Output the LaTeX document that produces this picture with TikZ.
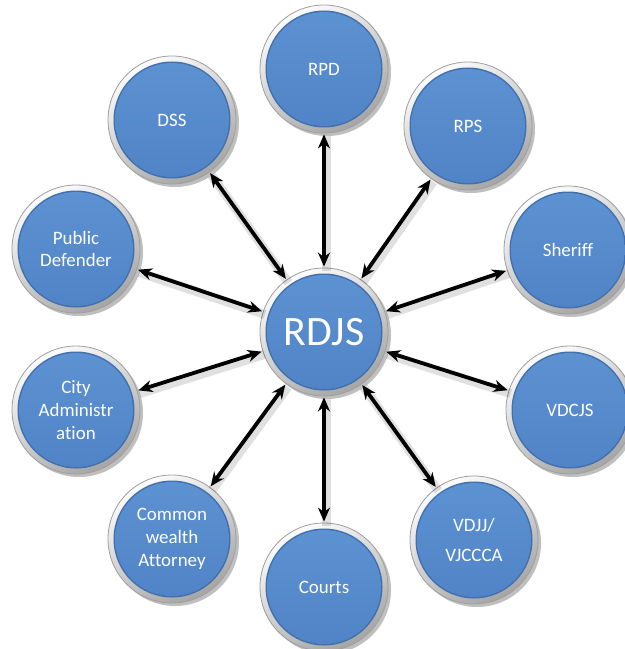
\documentclass[tikz,border=0pt]{standalone}
\usepackage{fontspec}
\setmainfont{Carlito}[Ligatures=NoCommon]
\usetikzlibrary{shadows, arrows.meta}

\definecolor{agencyblue}{RGB}{80,132,198}
\definecolor{agencytop}{RGB}{92,145,210}
\definecolor{agencyrim}{RGB}{66,112,172}
\definecolor{ringlight}{RGB}{252,252,252}
\definecolor{ringdark}{RGB}{165,165,165}

\tikzset{
	agency/.style={circle, minimum size=128bp, inner sep=0pt, text=white, align=center,
		font=\fontsize{19}{23}\selectfont,
		draw=gray!75, line width=0.8bp,
		top color=ringlight, bottom color=ringdark, shading angle=30,
		drop shadow={shadow xshift=3bp, shadow yshift=-3bp, opacity=0.5},
		path picture={
			\fill[agencyrim] (path picture bounding box.center) circle (58.5bp);
			\shade[top color=agencytop, bottom color=agencyblue] (path picture bounding box.center) circle (57bp);
		}},
	hub/.style={agency, font=\fontsize{42}{46}\selectfont},
	link/.style={{Stealth[length=14bp,width=12bp]}-{Stealth[length=14bp,width=12bp]}, line width=3.8bp, shorten <=1bp, shorten >=1bp},
	link shadow/.style={line width=9bp, draw=black, opacity=0.12, transform canvas={shift={(2bp,-3bp)}}}
}

\begin{document}
\begin{tikzpicture}[x=1bp, y=-1bp]
	\fill[white] (0, 0) rectangle (625, 649);
	\useasboundingbox (0, 0) rectangle (625, 649);

	% centre
	\node[hub] (RDJS) at (324, 332) {RDJS};

	% agencies around it
	\node[agency] (RPD) at (324, 69) {RPD};
	\node[agency] (RPS) at (468, 126) {RPS};
	\node[agency] (Sheriff) at (568, 250) {Sheriff};
	\node[agency] (VDCJS) at (570, 410) {VDCJS};
	\node[agency] (VDJJ) at (474, 540) {VDJJ/\\[8bp]VJCCCA};
	\node[agency] (Courts) at (324, 587) {Courts};
	\node[agency] (CWA) at (172, 539) {Common\\wealth\\Attorney};
	\node[agency] (CityAdmin) at (76, 410) {City\\Administr\\ation};
	\node[agency] (PubDef) at (76, 249) {Public\\Defender};
	\node[agency] (DSS) at (172, 120) {DSS};

	% shadows under the links
	\draw[link shadow] (RDJS) -- (RPD);
	\draw[link shadow] (RDJS) -- (RPS);
	\draw[link shadow] (RDJS) -- (Sheriff);
	\draw[link shadow] (RDJS) -- (VDCJS);
	\draw[link shadow] (RDJS) -- (VDJJ);
	\draw[link shadow] (RDJS) -- (Courts);
	\draw[link shadow] (RDJS) -- (CWA);
	\draw[link shadow] (RDJS) -- (CityAdmin);
	\draw[link shadow] (RDJS) -- (PubDef);
	\draw[link shadow] (RDJS) -- (DSS);

	% links
	\draw[link] (RDJS) -- (RPD);
	\draw[link] (RDJS) -- (RPS);
	\draw[link] (RDJS) -- (Sheriff);
	\draw[link] (RDJS) -- (VDCJS);
	\draw[link] (RDJS) -- (VDJJ);
	\draw[link] (RDJS) -- (Courts);
	\draw[link] (RDJS) -- (CWA);
	\draw[link] (RDJS) -- (CityAdmin);
	\draw[link] (RDJS) -- (PubDef);
	\draw[link] (RDJS) -- (DSS);
\end{tikzpicture}
\end{document}
